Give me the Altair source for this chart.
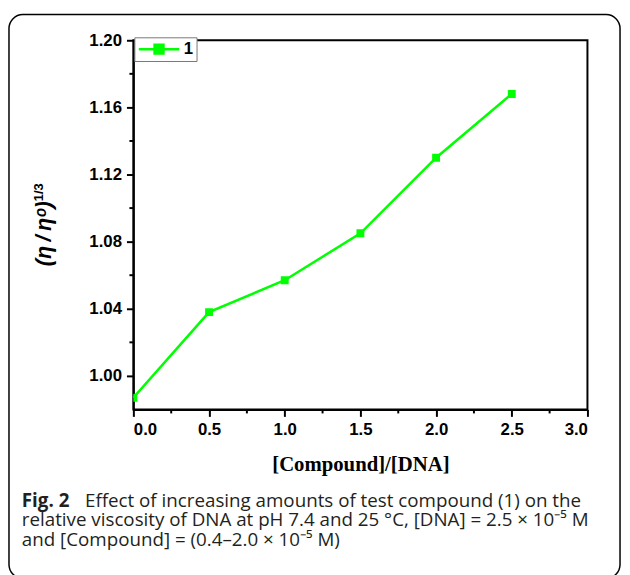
import altair as alt
import pandas as pd

# ---- data ----
ratio = [0.0, 0.5, 1.0, 1.5, 2.0, 2.5]
viscosity = [0.987, 1.038, 1.057, 1.085, 1.130, 1.168]
series = ["1", "1", "1", "1", "1", "1"]

x_major = [0.0, 0.5, 1.0, 1.5, 2.0, 2.5, 3.0]
x_minor = [0.25, 0.75, 1.25, 1.75, 2.25, 2.75]
y_major = [1.00, 1.04, 1.08, 1.12, 1.16, 1.20]
y_minor = [1.02, 1.06, 1.10, 1.14, 1.18]

x_title = "[Compound]/[DNA]"
y_title_main = "(η\u2009/\u2009ηᵒ)"
y_title_sup = "1/3"
caption_bold = "Fig. 2"
caption_1 = "Effect of increasing amounts of test compound (1) on the"
caption_2 = "relative viscosity of DNA at pH 7.4 and 25 °C, [DNA] = 2.5 × 10⁻⁵ M"
caption_3 = "and [Compound] = (0.4–2.0 × 10⁻⁵ M)"

GREEN = "#00ff00"
AXFONT = "Liberation Sans"
CAPFONT = "Open Sans"

df = pd.DataFrame({"ratio": ratio, "visc": viscosity, "series": series})
xm = pd.DataFrame({"ratio": x_minor})
ym = pd.DataFrame({"visc": y_minor})
one = pd.DataFrame({"k": [0]})

x_scale = alt.Scale(domain=[0, 3], nice=False)
y_scale = alt.Scale(domain=[0.98, 1.20], nice=False, zero=False)

x_axis = alt.Axis(
    values=x_major,
    format=".1f",
    title=x_title,
    titleFont="Liberation Serif",
    titleFontSize=21,
    titleFontWeight="bold",
    titleColor="black",
    titlePadding=17,
    labelFont=AXFONT,
    labelFontSize=17,
    labelFontWeight="bold",
    labelColor="black",
    labelPadding=5,
    tickSize=7,
    tickWidth=2,
    tickColor="black",
    domainColor="black",
    domainWidth=2,
    grid=False,
)
y_axis = alt.Axis(
    values=y_major,
    format=".2f",
    title=None,
    labelFont=AXFONT,
    labelFontSize=17,
    labelFontWeight="bold",
    labelColor="black",
    labelPadding=5,
    tickSize=7,
    tickWidth=2,
    tickColor="black",
    domainColor="black",
    domainWidth=2,
    grid=False,
)

x_enc = alt.X("ratio:Q", scale=x_scale, axis=x_axis)
y_enc = alt.Y("visc:Q", scale=y_scale, axis=y_axis)

base = alt.Chart(df)

line = base.mark_line(color=GREEN, strokeWidth=2.5, clip=True).encode(x=x_enc, y=y_enc)

points = base.mark_point(filled=True, shape="square", size=64, opacity=1, clip=True).encode(
    x=x_enc,
    y=y_enc,
    color=alt.Color(
        "series:N",
        scale=alt.Scale(domain=["1"], range=[GREEN]),
        legend=alt.Legend(
            title=None,
            orient="none",
            legendX=1,
            legendY=-3,
            clipHeight=18,
            symbolType="M-1,0H-0.22M0.22,0H1M-0.22,-0.22H0.22V0.22H-0.22Z",
            symbolSize=1681,
            symbolStrokeColor=GREEN,
            symbolFillColor=GREEN,
            symbolStrokeWidth=2.5,
            symbolOpacity=1,
            labelFont=AXFONT,
            labelFontSize=17,
            labelFontWeight="bold",
            labelColor="black",
            labelOffset=3,
            padding=3,
            strokeColor="#777777",
            fillColor="white",
        ),
    ),
)

x_minor_ticks = alt.Chart(xm).mark_rule(color="black", strokeWidth=2).encode(
    x=x_enc, y=alt.value(374), y2=alt.value(378)
)
y_minor_ticks = alt.Chart(ym).mark_rule(color="black", strokeWidth=2).encode(
    y=y_enc, x=alt.value(0), x2=alt.value(-4)
)

border = alt.Chart(one).mark_rect(
    fill="transparent", stroke="black", strokeWidth=1.5, cornerRadius=14
).encode(x=alt.value(-126), x2=alt.value(493), y=alt.value(-26), y2=alt.value(545))

ytitle = alt.Chart(one).mark_text(
    font=AXFONT, fontSize=22, fontWeight="bold", fontStyle="italic", angle=270,
    align="center", baseline="middle", color="black"
).encode(x=alt.value(-90), y=alt.value(196), text=alt.value(y_title_main))

ysup = alt.Chart(one).mark_text(
    font=AXFONT, fontSize=13, fontWeight="bold", angle=270,
    align="center", baseline="middle", color="black"
).encode(x=alt.value(-96), y=alt.value(154), text=alt.value(y_title_sup))

cap_b = alt.Chart(one).mark_text(
    font=CAPFONT, fontSize=19, fontWeight="bold", align="left", baseline="alphabetic", color="#231f20"
).encode(x=alt.value(-113), y=alt.value(473), text=alt.value(caption_bold))

cap1 = alt.Chart(one).mark_text(
    font=CAPFONT, fontSize=19, align="left", baseline="alphabetic", color="#231f20"
).encode(x=alt.value(-49), y=alt.value(473), text=alt.value(caption_1))

cap2 = alt.Chart(one).mark_text(
    font=CAPFONT, fontSize=19, align="left", baseline="alphabetic", color="#231f20"
).encode(x=alt.value(-113), y=alt.value(492), text=alt.value(caption_2))

cap3 = alt.Chart(one).mark_text(
    font=CAPFONT, fontSize=19, align="left", baseline="alphabetic", color="#231f20"
).encode(x=alt.value(-113), y=alt.value(512), text=alt.value(caption_3))

chart = (
    alt.layer(line, points, x_minor_ticks, y_minor_ticks, border, ytitle, ysup, cap_b, cap1, cap2, cap3)
    .properties(
        width=460,
        height=374,
        autosize=alt.AutoSizeParams(type="none"),
        padding={"left": 127, "top": 29, "right": 35, "bottom": 164},
        background="white",
    )
    .configure_view(stroke="black", strokeWidth=2)
)

chart.save("out.html", embed_options={"renderer": "svg", "actions": False})
